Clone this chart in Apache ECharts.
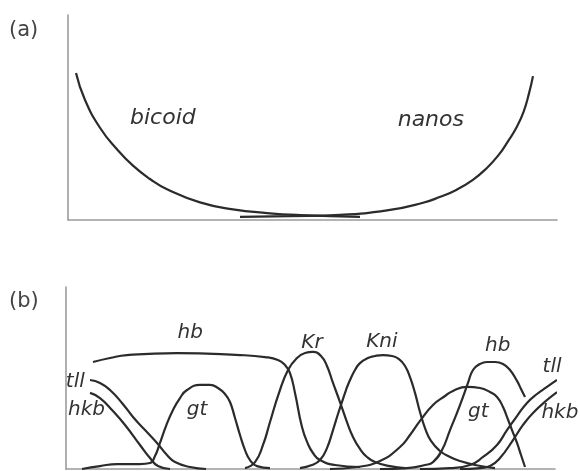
<!DOCTYPE html>
<html>
<head>
<meta charset="utf-8">
<script src="https://cdn.jsdelivr.net/npm/echarts@6/dist/echarts.min.js"></script>
<style>
  html, body { margin: 0; padding: 0; background: #fff; }
  #chart { width: 580px; height: 471px; }
</style>
</head>
<body>
<div id="chart"></div>
<script>
// Panel (a): maternal gradients, [position along embryo %, relative level]
const bicoid = [[1.64,71.7],[3.40,59.0],[6.54,45.0],[10.02,34.5],[13.29,26.5],[16.77,20.0],[20.25,15.0],[26.99,8.6],[33.74,5.2],[40.70,3.4],[47.44,2.4],[59.71,1.5]];
const nanos = [[95.09,70.2],[94.30,62.0],[93.20,53.0],[91.80,45.5],[90.00,38.5],[88.00,31.5],[85.50,25.0],[82.80,19.6],[79.50,14.8],[76.00,11.2],[72.60,8.4],[65.85,4.9],[55.62,2.5],[45.40,1.9],[35.17,1.5]];

// Panel (b): gap / terminal gene expression domains
const hbAnterior = [[5.52,58.8],[9.00,61.0],[12.47,62.6],[22.70,63.7],[35.58,62.6],[40.70,61.5],[43.35,59.9],[44.79,57.1],[45.81,52.7],[46.83,41.8],[48.26,23.1],[49.49,13.7],[50.51,8.8],[51.94,4.9],[55.01,2.2],[60.12,1.1]];
const tllAnterior = [[4.91,48.9],[6.95,47.3],[9.00,43.4],[11.45,36.3],[13.70,28.6],[16.16,21.4],[18.61,14.3],[20.65,7.7],[22.29,3.8],[25.36,1.1],[28.63,0]];
const hkbAnterior = [[4.91,41.8],[6.95,39.0],[9.41,32.4],[12.07,24.2],[15.13,13.2],[17.18,6.0],[18.81,1.6],[21.27,0]];
const gtAnterior = [[3.27,0],[6.95,1.6],[10.43,2.7],[15.13,2.7],[17.18,3.3],[18.20,7.1],[19.22,14.3],[20.45,23.6],[21.88,32.4],[23.31,39.0],[24.74,43.4],[27.40,46.2],[29.45,46.2],[31.08,44.5],[32.52,41.2],[33.54,36.8],[34.56,28.0],[35.58,18.7],[36.61,10.4],[37.63,4.9],[39.06,1.6],[41.72,0.5]];
const kr = [[36.61,0.5],[38.65,3.8],[40.29,13.2],[41.72,25.8],[43.56,41.8],[45.40,54.4],[47.24,61.0],[48.88,63.7],[50.51,64.3],[52.15,62.1],[53.37,56.6],[54.60,47.3],[56.03,36.8],[57.46,25.8],[58.69,17.6],[60.12,11.0],[61.55,6.6],[63.19,3.8],[66.26,1.6],[69.33,0.5]];
const kni = [[47.85,0.5],[50.31,2.2],[51.94,4.9],[53.37,11.5],[54.60,21.4],[55.62,30.2],[56.44,36.8],[57.26,43.4],[58.08,48.9],[59.10,54.4],[60.12,58.2],[61.76,61.0],[63.19,62.1],[64.83,62.6],[66.67,62.1],[68.10,60.4],[69.33,56.6],[70.35,50.5],[71.37,41.8],[72.39,31.3],[73.42,22.5],[74.64,15.4],[76.48,9.9],[78.53,6.6],[80.57,4.4],[83.64,2.2],[87.73,0.5]];
const gtPosterior = [[53.99,0],[59.51,1.1],[64.21,4.4],[68.30,12.1],[70.35,18.7],[72.39,26.4],[75.05,35.2],[77.51,40.1],[79.14,42.9],[82.00,45.1],[84.66,44.5],[86.71,42.3],[88.14,39.6],[89.37,34.1],[90.18,28.6],[91.21,21.4],[92.23,14.3],[93.05,7.7],[93.87,1.1]];
const hbPosterior = [[64.21,0],[69.73,0.5],[73.42,2.2],[75.05,3.8],[76.89,10.4],[78.53,21.4],[79.96,30.8],[81.19,39.6],[82.21,47.3],[83.23,54.4],[84.66,57.7],[86.09,58.8],[87.73,58.8],[89.37,57.7],[90.80,54.4],[92.23,48.4],[93.05,44.0],[93.87,39.6]];
const tllPosterior = [[72.39,0],[78.53,0.5],[82.62,2.2],[85.28,6.6],[88.14,13.2],[90.18,21.4],[92.23,29.1],[94.27,36.3],[96.32,41.2],[98.36,45.1],[100.41,48.9]];
const hkbPosterior = [[80.57,0],[84.66,0.5],[86.71,1.6],[88.75,6.0],[91.41,15.9],[93.46,24.2],[95.50,30.8],[98.36,37.9],[100.41,42.3]];

// Gene name labels: text, panel, x, y (data coordinates)
const labelTexts  = ['bicoid','nanos','hb','tll','hkb','gt','Kr','Kni','hb','tll','gt','hkb'];
const labelPanels = [0,0,1,1,1,1,1,1,1,1,1,1];
const labelX = [19.4,74.2,25.4,1.9,4.2,26.8,50.3,64.6,88.3,99.4,84.3,101.0];
const labelY = [49.8,48.8,74.7,47.8,32.4,32.4,69.2,69.8,67.6,56.0,31.3,30.8];

const panelTitles = ['(a)','(b)'];

const chart = echarts.init(document.getElementById('chart'), null, { renderer: 'canvas' });

const axisLine = { show: true, onZero: true, lineStyle: { color: '#9b9b9b', width: 1.6 } };
function bareAxis(gridIndex) {
  return {
    type: 'value', gridIndex: gridIndex, min: 0, max: 100,
    axisLine: axisLine, axisTick: { show: false }, axisLabel: { show: false },
    splitLine: { show: false }
  };
}

function curve(data, gridIndex) {
  return {
    type: 'line', xAxisIndex: gridIndex, yAxisIndex: gridIndex,
    data: data, smooth: 0.5, showSymbol: false, symbol: 'none', clip: false,
    lineStyle: { color: '#2b2b2b', width: 2.2 },
    silent: true, animation: false
  };
}

chart.setOption({
  animation: false,
  backgroundColor: '#ffffff',
  title: panelTitles.map((t, i) => ({
    text: t, left: 9, top: i === 0 ? 20 : 291, padding: 0,
    textStyle: { fontFamily: 'DejaVu Sans', fontSize: 21, fontWeight: 'normal', color: '#444' }
  })),
  grid: [
    { left: 68, top: 15, width: 489, height: 205 },
    { left: 66, top: 287, width: 489, height: 182 }
  ],
  xAxis: [bareAxis(0), bareAxis(1)],
  yAxis: [bareAxis(0), bareAxis(1)],
  series: [
    curve(bicoid, 0), curve(nanos, 0),
    curve(hbAnterior, 1), curve(tllAnterior, 1), curve(hkbAnterior, 1), curve(gtAnterior, 1),
    curve(kr, 1), curve(kni, 1), curve(gtPosterior, 1), curve(hbPosterior, 1),
    curve(tllPosterior, 1), curve(hkbPosterior, 1)
  ]
});

// Place gene names at their data positions through the axes' own scales
const labels = labelTexts.map((t, i) => {
  const p = chart.convertToPixel({ gridIndex: labelPanels[i] }, [labelX[i], labelY[i]]);
  const big = labelPanels[i] === 0;
  return {
    type: 'text', x: p[0], y: p[1], silent: true,
    style: {
      text: t,
      font: 'oblique ' + (big ? 22 : 20) + 'px "DejaVu Sans"',
      fill: '#333',
      align: 'center', verticalAlign: 'middle',
      textAlign: 'center', textVerticalAlign: 'middle'
    }
  };
});
chart.setOption({ graphic: labels });
</script>
</body>
</html>
